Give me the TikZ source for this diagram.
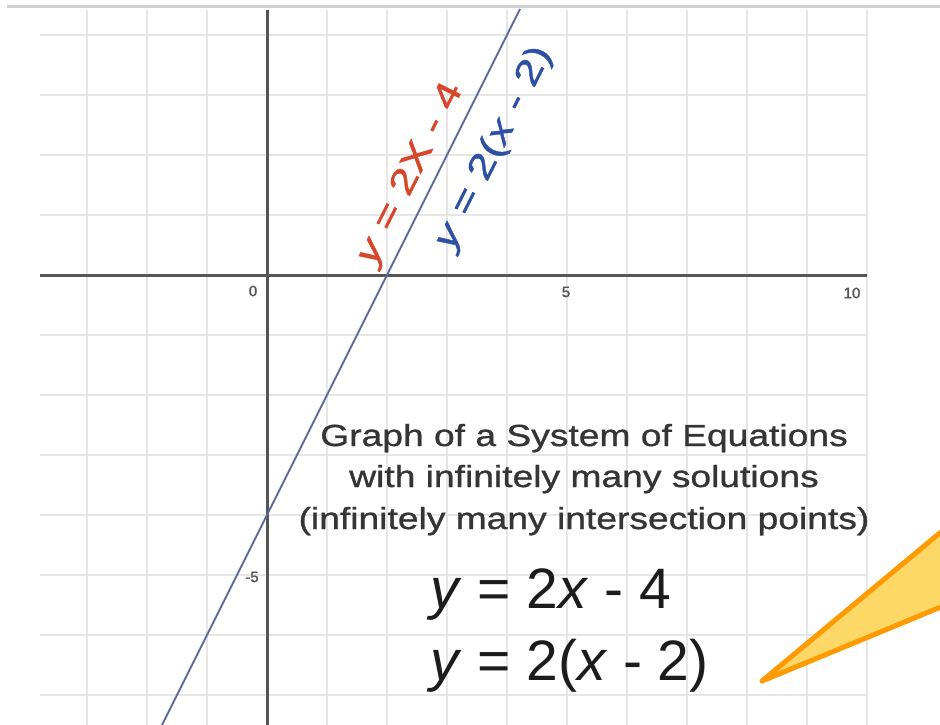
\documentclass[tikz,border=0pt]{standalone}
\usepackage{fontspec}
\setmainfont{Liberation Sans}
\newfontfamily\headfont[FakeStretch=1.22,FakeBold=1]{Liberation Sans}
\newfontfamily\labfont[FakeStretch=1.3,FakeBold=1.2]{Liberation Sans}
\newfontfamily\tickfont[FakeBold=1.5]{Liberation Sans}
\definecolor{gridc}{HTML}{E6E6E6}
\definecolor{axisc}{HTML}{555555}
\definecolor{borderc}{HTML}{D0D0D0}
\definecolor{linec}{HTML}{5D6C9C}
\definecolor{redc}{HTML}{D8452B}
\definecolor{bluec}{HTML}{2E50A4}
\definecolor{textc}{HTML}{353535}
\definecolor{eqc}{HTML}{1C1C1C}
\definecolor{tickc}{HTML}{555555}
\definecolor{orangec}{HTML}{FF9A00}
\definecolor{orangefill}{HTML}{FDD867}
\tikzset{
  gridline/.style={draw=gridc, line width=2pt},
  axisline/.style={draw=axisc, line width=3pt},
  graphline/.style={draw=linec, line width=2pt},
  ticklabel/.style={font=\tickfont\fontsize{15}{15}\selectfont, text=tickc, inner sep=0pt},
  headline/.style={font=\headfont\fontsize{30.5}{36}\selectfont, text=textc, inner sep=0pt, anchor=base},
  eqline/.style={font=\fontsize{57}{60}\selectfont, text=eqc, inner sep=0pt, anchor=base west},
  rotlabel/.style={font=\labfont\fontsize{35}{36}\selectfont, inner sep=0pt, rotate=63.43},
  callout/.style={draw=orangec, fill=orangefill, line width=5pt, line join=round}
}
\begin{document}
\begin{tikzpicture}[x=1pt,y=-1pt]
\useasboundingbox (0,0) rectangle (940,725);
\fill[white] (0,0) rectangle (940,725);
\begin{scope}
\clip (0,0) rectangle (940,725);
% grid
\foreach \gx in {87,147,207,327,387,447,507,567,627,687,747,807,867}
  \draw[gridline] (\gx,10) -- (\gx,725);
\foreach \gy in {35,95,155,215,335,395,455,515,575,635,695}
  \draw[gridline] (40,\gy) -- (867,\gy);
% top border
\draw[draw=borderc, line width=3pt] (7,7) -- (940,7);
% axes
\coordinate (xl) at (40,275);
\coordinate (xr) at (867,275);
\coordinate (yt) at (267,10);
\coordinate (yb) at (267,725);
\draw[axisline] (xl) -- (xr);
\draw[axisline] (yt) -- (yb);
% tick labels
\node[ticklabel] (t0) at (253,291) {0};
\node[ticklabel] (t5) at (566,292) {5};
\node[ticklabel] (t10) at (852,293) {10};
\node[ticklabel] (tm5) at (252,577) {-5};
% the line
\coordinate (la) at (162,725);
\coordinate (lb) at (520,9);
\draw[graphline] (la) -- (lb);
% rotated labels
\node[rotlabel, text=redc] (lred) at (411,174) {\textit{y} = 2X - 4};
\node[rotlabel, text=bluec] (lblue) at (494,148) {\textit{y} = 2(\textit{x} - 2)};
% heading text
\node[headline] (h1) at (584,446) {Graph of a System of Equations};
\node[headline] (h2) at (584,487) {with infinitely many solutions};
\node[headline] (h3) at (584,529) {(infinitely many intersection points)};
% equations
\node[eqline] (e1) at (430,608) {\textit{y} = 2\textit{x} - 4};
\node[eqline] (e2) at (430,680) {\textit{y} = 2(\textit{x} - 2)};
% callout tail
\coordinate (ct) at (762,681);
\coordinate (cu) at (965,512);
\coordinate (cl) at (965,597);
\draw[callout] (ct) -- (cu) -- (cl) -- cycle;
\end{scope}
\end{tikzpicture}
\end{document}
